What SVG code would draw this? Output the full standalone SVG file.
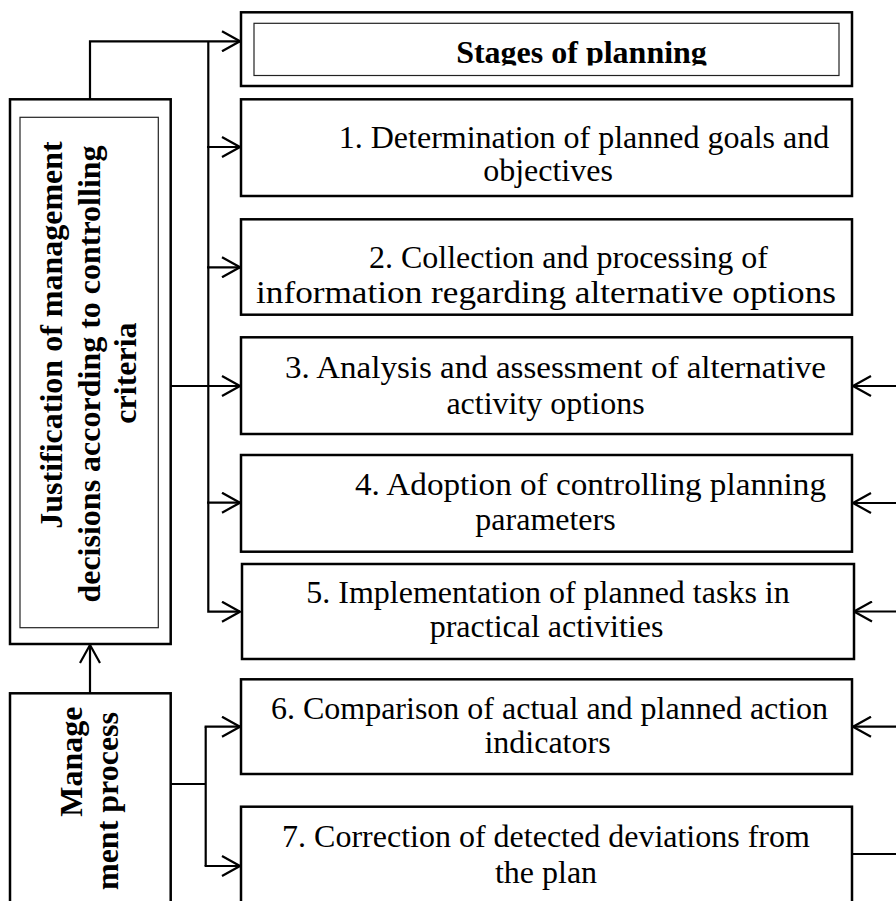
<svg xmlns="http://www.w3.org/2000/svg" width="896" height="901" viewBox="0 0 896 901">
  <style>
    .box { fill: #fff; stroke: #000; stroke-width: 2.5; }
    .inner { fill: none; stroke: #222; stroke-width: 1.2; }
    .txt { font-family: "Liberation Serif", "Times New Roman", serif; font-size: 32px; fill: #000; text-anchor: middle; }
    .bold { font-weight: bold; }
    .wire { fill: none; stroke: #000; stroke-width: 2.2; }
  </style>
  <defs>
    <marker id="arr" viewBox="0 0 20 22" refX="19" refY="11" markerWidth="20" markerHeight="22" markerUnits="userSpaceOnUse" orient="auto">
      <path d="M1,1 L19,11 L1,21" fill="none" stroke="#000" stroke-width="2.2"/>
    </marker>
    <!-- heading text is cut just under its baseline -->
    <clipPath id="titleClip">
      <rect x="255" y="24" width="583" height="41.5"/>
    </clipPath>
  </defs>
  <rect width="896" height="901" fill="#fff"/>

  <!-- connectors -->
  <g id="connectors" class="wire">
    <path d="M90,99 V41.3 H240" marker-end="url(#arr)"/>
    <path d="M208.3,41.3 V611.7 H240" marker-end="url(#arr)"/>
    <path d="M207,147 H240" marker-end="url(#arr)"/>
    <path d="M207,267.3 H240" marker-end="url(#arr)"/>
    <path d="M171,386 H240" marker-end="url(#arr)"/>
    <path d="M207,502.7 H240" marker-end="url(#arr)"/>
    <path d="M90,693.3 V645" marker-end="url(#arr)"/>
    <path d="M171,784 H205.7"/>
    <path d="M205.7,726.7 V866"/>
    <path d="M204.6,726.7 H240" marker-end="url(#arr)"/>
    <path d="M204.6,866 H240" marker-end="url(#arr)"/>
    <path d="M897,386 H853" marker-end="url(#arr)"/>
    <path d="M897,503 H853" marker-end="url(#arr)"/>
    <path d="M897,611.5 H854" marker-end="url(#arr)"/>
    <path d="M897,726.7 H853" marker-end="url(#arr)"/>
    <path d="M852,854 H897"/>
  </g>

  <!-- heading -->
  <g id="stages">
    <rect class="box" x="241" y="12.3" width="611" height="73.7"/>
    <rect class="inner" x="254" y="23.3" width="585" height="52.2"/>
    <text class="txt bold" x="581.5" y="63.3" clip-path="url(#titleClip)">Stages of planning</text>
  </g>

  <!-- justification block -->
  <g id="justification">
    <rect class="box" x="10" y="99.3" width="160.7" height="544.7"/>
    <rect class="inner" x="20" y="117.3" width="138.3" height="510.4"/>
    <text class="txt bold" transform="translate(61.5,335) rotate(-90)">Justification of management</text>
    <text class="txt bold" transform="translate(99.5,374) rotate(-90)">decisions according to controlling</text>
    <text class="txt bold" transform="translate(135.5,373) rotate(-90)">criteria</text>
  </g>

  <!-- management process block -->
  <g id="management">
    <rect class="box" x="10" y="693.3" width="160.7" height="230"/>
    <text class="txt bold" transform="translate(82,761.7) rotate(-90)">Manage</text>
    <text class="txt bold" transform="translate(118,801) rotate(-90)">ment process</text>
  </g>

  <!-- planning stages -->
  <g id="stage1">
    <rect class="box" x="241" y="99.3" width="611" height="96.7"/>
    <text class="txt" x="584" y="147.5">1. Determination of planned goals and</text>
    <text class="txt" x="548" y="180.5">objectives</text>
  </g>
  <g id="stage2">
    <rect class="box" x="241" y="219.3" width="611" height="95.4"/>
    <text class="txt" x="568.5" y="268">2. Collection and processing of</text>
    <text class="txt" x="546" y="303" textLength="580" lengthAdjust="spacingAndGlyphs">information regarding alternative options</text>
  </g>
  <g id="stage3">
    <rect class="box" x="241" y="337.3" width="611" height="96.7"/>
    <text class="txt" x="555.5" y="378" textLength="541" lengthAdjust="spacingAndGlyphs">3. Analysis and assessment of alternative</text>
    <text class="txt" x="545.5" y="414">activity options</text>
  </g>
  <g id="stage4">
    <rect class="box" x="241" y="455" width="611" height="96.7"/>
    <text class="txt" x="590.5" y="495" textLength="471" lengthAdjust="spacingAndGlyphs">4. Adoption of controlling planning</text>
    <text class="txt" x="545.5" y="530">parameters</text>
  </g>
  <g id="stage5">
    <rect class="box" x="242" y="564" width="612" height="95"/>
    <text class="txt" x="548" y="603">5. Implementation of planned tasks in</text>
    <text class="txt" x="546.5" y="637">practical activities</text>
  </g>
  <g id="stage6">
    <rect class="box" x="241" y="679.3" width="611" height="94.7"/>
    <text class="txt" x="549.5" y="719">6. Comparison of actual and planned action</text>
    <text class="txt" x="547.5" y="753">indicators</text>
  </g>
  <g id="stage7">
    <rect class="box" x="241" y="806.7" width="611" height="120"/>
    <text class="txt" x="546" y="847">7. Correction of detected deviations from</text>
    <text class="txt" x="546" y="883">the plan</text>
  </g>
</svg>
